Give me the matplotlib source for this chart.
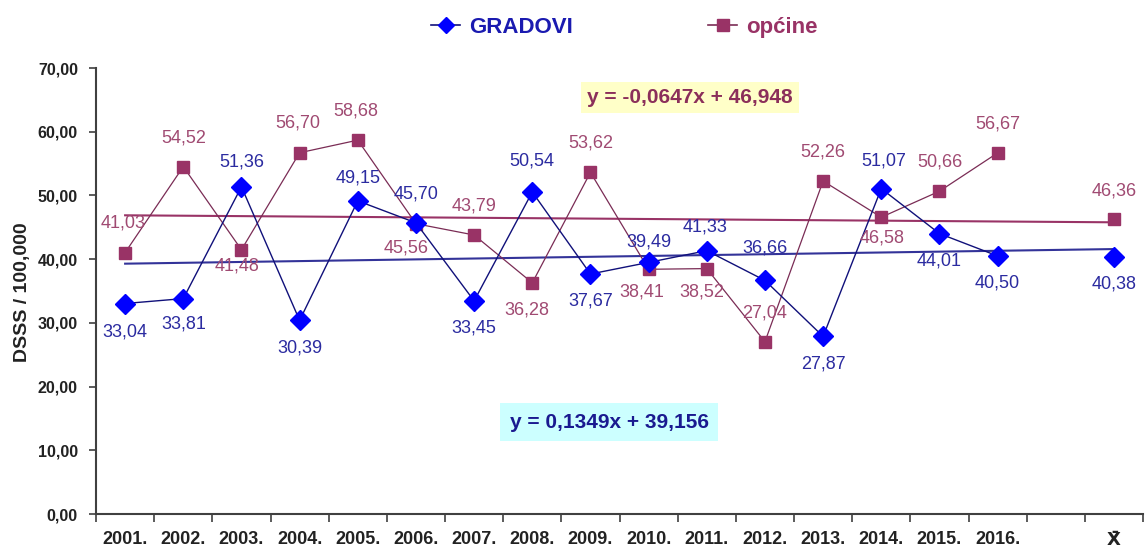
import numpy as np
import matplotlib.pyplot as plt
from matplotlib.lines import Line2D

plt.rcParams['font.family'] = ['Liberation Sans', 'DejaVu Sans']

# Data
categories = ['2001.', '2002.', '2003.', '2004.', '2005.', '2006.', '2007.', '2008.',
              '2009.', '2010.', '2011.', '2012.', '2013.', '2014.', '2015.', '2016.', '', 'X\u0304']
gradovi = [33.04, 33.81, 51.36, 30.39, 49.15, 45.70, 33.45, 50.54,
           37.67, 39.49, 41.33, 36.66, 27.87, 51.07, 44.01, 40.50, np.nan, 40.38]
opcine = [41.03, 54.52, 41.48, 56.70, 58.68, 45.56, 43.79, 36.28,
          53.62, 38.41, 38.52, 27.04, 52.26, 46.58, 50.66, 56.67, np.nan, 46.36]
trend_gradovi = (0.1349, 39.156)
trend_opcine = (-0.0647, 46.948)

# label placement: (dx, dy) in pixels, positive dy = up
off_gradovi = [(0, -28), (0, -25), (0, 25), (0, -28), (0, 23), (0, 29), (0, -27), (0, 31),
               (0, -27), (0, 20), (-2, 24), (0, 32), (0, -28), (2, 28), (0, -27), (0, -27), None, (0, -27)]
off_opcine = [(-2, 30), (0, 29), (-4, -16), (-2, 30), (-2, 29), (-10, -24), (0, 29), (-5, -27),
              (0, 29), (-7, -23), (-5, -23), (0, 29), (0, 29), (1, -21), (0, 29), (0, 29), None, (0, 28)]

blue_mk = '#0000ff'
blue_ln = '#10107a'
blue_tx = '#2b2ba0'
plum = '#993366'
plum_ln = '#7a2c55'
plum_tx = '#a04a72'

x = np.arange(1, len(categories) + 1)

fig = plt.figure(figsize=(11.46, 5.52), dpi=100)
ax = fig.add_axes([0.0838, 0.0688, 0.9136, 0.808])

# trend lines
xt = np.array([1, len(categories)])
ax.plot(xt, trend_gradovi[0] * xt + trend_gradovi[1], color='#333399', lw=1.5, zorder=2)
ax.plot(xt, trend_opcine[0] * xt + trend_opcine[1], color=plum, lw=1.5, zorder=2)

ax.plot(x, gradovi, color=blue_ln, lw=1.0, marker='D', ms=10, mfc=blue_mk, mec=blue_mk, zorder=4)
ax.plot(x, opcine, color=plum_ln, lw=0.9, marker='s', ms=9, mfc=plum, mec=plum, zorder=3)

def fmt(v):
    return f'{v:.2f}'.replace('.', ',')

for xi, v, off in zip(x, gradovi, off_gradovi):
    if off is None:
        continue
    ax.annotate(fmt(v), (xi, v), xytext=off, textcoords='offset pixels',
                ha='center', va='center', fontsize=13, color=blue_tx, zorder=6)
for xi, v, off in zip(x, opcine, off_opcine):
    if off is None:
        continue
    ax.annotate(fmt(v), (xi, v), xytext=off, textcoords='offset pixels',
                ha='center', va='center', fontsize=13, color=plum_tx, zorder=6)

# equations
ax.text(10.71, 65.4, 'y = -0,0647x + 46,948', ha='center', va='center', fontsize=15,
        fontweight='bold', color='#8b2f5a',
        bbox=dict(facecolor='#ffffc8', edgecolor='none', boxstyle='square,pad=0.3'))
ax.text(9.32, 14.4, 'y = 0,1349x + 39,156', ha='center', va='center', fontsize=15,
        fontweight='bold', color='#1a1a90',
        bbox=dict(facecolor='#ccffff', edgecolor='none', boxstyle='square,pad=0.45'))

# axes
ax.set_xlim(0.5, len(categories) + 0.5)
ax.set_ylim(0, 70)
ax.set_yticks(np.arange(0, 71, 10))
ax.set_yticklabels([fmt(v) for v in np.arange(0, 71, 10)], fontsize=11.5, fontweight='bold')
ax.set_xticks(np.arange(0.5, len(categories) + 1, 1))
ax.set_xticklabels([])
ax.set_xticks(x, minor=True)
ax.set_xticklabels(categories, minor=True, fontsize=13, fontweight='bold', color='#222222')
ax.get_xticklabels(minor=True)[-1].set_fontfamily('DejaVu Sans')
ax.tick_params(axis='x', which='major', length=6, width=1.2, color='#404040')
ax.tick_params(axis='x', which='minor', length=0, pad=12)
ax.tick_params(axis='y', length=5, width=1.2, color='#404040', pad=8, labelcolor='#222222')
for s in ['top', 'right']:
    ax.spines[s].set_visible(False)
for s in ['left', 'bottom']:
    ax.spines[s].set_color('#404040')
    ax.spines[s].set_linewidth(1.5)

fig.text(0.02, 0.471, 'DSSS / 100,000', rotation=90, ha='center', va='center',
         fontsize=14, fontweight='bold', color='#222222')

handles = [Line2D([], [], color=blue_ln, lw=1.2, marker='D', ms=8, mfc=blue_mk, mec=blue_mk),
           Line2D([], [], color=plum_ln, lw=1.2, marker='s', ms=8, mfc=plum, mec=plum)]
fig.legend(handles, ['GRADOVI', 'općine'], loc='center', bbox_to_anchor=(0.545, 0.951),
           ncol=2, frameon=False, prop={'size': 16, 'weight': 'bold'},
           labelcolor=['#1a1ab0', plum], handlelength=1.3, columnspacing=6.1, handletextpad=0.4)

fig.savefig('out.png', dpi=100)
